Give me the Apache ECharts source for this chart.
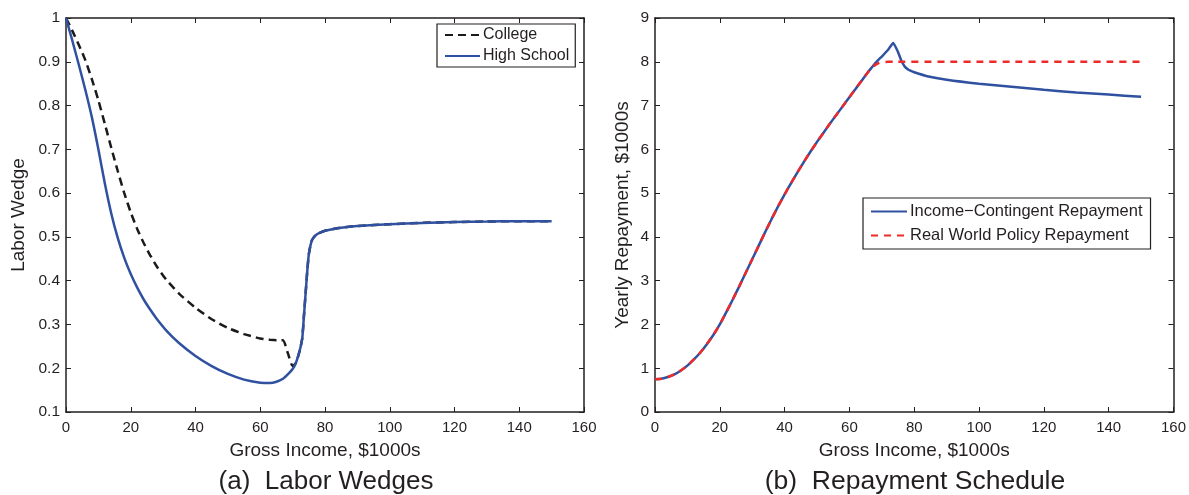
<!DOCTYPE html>
<html>
<head>
<meta charset="utf-8">
<script src="https://cdn.jsdelivr.net/npm/echarts@6/dist/echarts.min.js"></script>
<style>
html,body{margin:0;padding:0;background:#fff;}
#chart{width:1189px;height:495px;}
</style>
</head>
<body>
<div id="chart"></div>
<script>
// ---- Panel (a): Labor wedges ----
const leftIncome = [0,2,4,6,8,10,12,14,16,18,20,22,24,26,28,31,35,40,45,50,55,60,63,65,67,68.5,70,71,72,72.5,73,73.5,74,74.5,75,75.5,76,77,78,80,85,90,100,110,120,130,140,150];
const collegeWedge = [1.0,0.97,0.938,0.903,0.86,0.812,0.758,0.703,0.65,0.6,0.556,0.518,0.486,0.458,0.433,0.402,0.37,0.338,0.312,0.292,0.278,0.268,0.265,0.264,0.264,0.235,0.205,0.212,0.235,0.25,0.27,0.32,0.37,0.42,0.46,0.48,0.493,0.503,0.508,0.514,0.521,0.525,0.529,0.532,0.534,0.535,0.536,0.536];
const highSchoolWedge = [1.0,0.947,0.892,0.835,0.773,0.70,0.622,0.553,0.497,0.452,0.415,0.384,0.357,0.334,0.313,0.286,0.257,0.228,0.205,0.187,0.174,0.167,0.166,0.169,0.176,0.186,0.198,0.212,0.235,0.25,0.27,0.32,0.37,0.42,0.46,0.48,0.493,0.503,0.508,0.514,0.521,0.525,0.529,0.532,0.534,0.535,0.536,0.536];

// ---- Panel (b): Repayment schedule ----
const rightIncome = [0,2,4,6,8,10,12,14,16,18,20,22,24,26,28,30,32,34,36,38,40,42,44,46,48,50,52,54,56,58,60,62,64,66,67,68,69,70,72,73.5,75,76,77,78,79,80,84,90,100,110,120,130,140,150];
const incomeContingent = [0.75,0.76,0.8,0.86,0.95,1.06,1.2,1.36,1.55,1.76,2.0,2.28,2.57,2.87,3.18,3.49,3.8,4.11,4.41,4.7,4.97,5.23,5.48,5.72,5.95,6.17,6.38,6.59,6.79,6.99,7.19,7.39,7.59,7.79,7.88,7.97,8.05,8.12,8.28,8.43,8.22,8.03,7.9,7.83,7.79,7.76,7.67,7.59,7.5,7.43,7.36,7.3,7.25,7.2];
const realWorldPolicy = [0.75,0.76,0.8,0.86,0.95,1.06,1.2,1.36,1.55,1.76,2.0,2.28,2.57,2.87,3.18,3.49,3.8,4.11,4.41,4.7,4.97,5.23,5.48,5.72,5.95,6.17,6.38,6.59,6.79,6.99,7.19,7.39,7.59,7.79,7.87,7.93,7.97,7.99,8.0,8.0,8.0,8.0,8.0,8.0,8.0,8.0,8.0,8.0,8.0,8.0,8.0,8.0,8.0,8.0];

const seriesNames = ['College','High School','Income\u2212Contingent Repayment','Real World Policy Repayment'];
const captions = ['(a)  Labor Wedges','(b)  Repayment Schedule'];
const xName = 'Gross Income, $1000s';
const yNames = ['Labor Wedge','Yearly Repayment, $1000s'];

const zip = (xs, ys) => xs.map((x, i) => [x, ys[i]]);

const FONT = "'Liberation Sans', Arial, Helvetica, sans-serif";
const INK = '#231f20';
const BLUE = '#3050a0';
const RED = '#ee2a2a';

function mainX(gi){
  return {
    type:'value', gridIndex:gi, min:0, max:160, interval:20, position:'bottom',
    name:xName, nameLocation:'middle', nameGap:29,
    nameTextStyle:{fontFamily:FONT, fontSize:19, color:INK},
    axisLine:{show:true, onZero:false, lineStyle:{color:INK, width:1.5}},
    axisTick:{show:true, inside:true, length:5, lineStyle:{color:INK, width:1}},
    axisLabel:{show:true, margin:8, fontFamily:FONT, fontSize:15, color:INK},
    splitLine:{show:false}
  };
}
function topX(gi){
  return {
    type:'value', gridIndex:gi, min:0, max:160, interval:20, position:'top',
    axisLine:{show:true, onZero:false, lineStyle:{color:INK, width:1.5}},
    axisTick:{show:true, inside:true, length:5, lineStyle:{color:INK, width:1}},
    axisLabel:{show:false}, splitLine:{show:false}
  };
}
function mainY(gi, min, max, interval, name, gap, fmt){
  return {
    type:'value', gridIndex:gi, min:min, max:max, interval:interval, position:'left',
    name:name, nameLocation:'middle', nameGap:gap, nameRotate:90,
    nameTextStyle:{fontFamily:FONT, fontSize:19, color:INK},
    axisLine:{show:true, onZero:false, lineStyle:{color:INK, width:1.5}},
    axisTick:{show:true, inside:true, length:5, lineStyle:{color:INK, width:1}},
    axisLabel:{show:true, margin:6, fontFamily:FONT, fontSize:15.5, color:INK, formatter:fmt},
    splitLine:{show:false}
  };
}
function rightY(gi, min, max, interval){
  return {
    type:'value', gridIndex:gi, min:min, max:max, interval:interval, position:'right',
    axisLine:{show:true, onZero:false, lineStyle:{color:INK, width:1.5}},
    axisTick:{show:true, inside:true, length:5, lineStyle:{color:INK, width:1}},
    axisLabel:{show:false}, splitLine:{show:false}
  };
}

const chart = echarts.init(document.getElementById('chart'), null, {renderer:'canvas'});
chart.setOption({
  backgroundColor:'#ffffff',
  animation:false,
  grid:[
    {left:66, top:18, width:518, height:394},
    {left:655, top:18, width:519, height:394}
  ],
  xAxis:[mainX(0), mainX(1), topX(0), topX(1)],
  yAxis:[
    mainY(0, 0.1, 1, 0.1, yNames[0], 38, v => String(Math.round(v*10)/10)),
    mainY(1, 0, 9, 1, yNames[1], 23, v => String(Math.round(v))),
    rightY(0, 0.1, 1, 0.1),
    rightY(1, 0, 9, 1)
  ],
  legend:[
    {
      data:[seriesNames[0], seriesNames[1]], orient:'vertical', left:437, top:24,
      itemWidth:35, itemHeight:14, itemGap:5, padding:[3,6,3,7],
      itemStyle:{opacity:0},
      borderColor:INK, borderWidth:1.2, backgroundColor:'#fff',
      textStyle:{fontFamily:FONT, fontSize:16, color:INK, padding:[0,0,0,-2]}
    },
    {
      data:[seriesNames[2], seriesNames[3]], orient:'vertical', left:863, top:198,
      itemWidth:36, itemHeight:15, itemGap:7, padding:[5,8,5,7],
      itemStyle:{opacity:0},
      borderColor:INK, borderWidth:1.2, backgroundColor:'#fff',
      textStyle:{fontFamily:FONT, fontSize:16.5, color:INK, padding:[0,0,0,-2]}
    }
  ],
  series:[
    {
      name:seriesNames[0], type:'line', xAxisIndex:0, yAxisIndex:0,
      data:zip(leftIncome, collegeWedge), showSymbol:false, symbol:'none',
      smooth:0.2,
      lineStyle:{color:'#1a1a1a', width:2.5, type:[8,5]}, itemStyle:{color:'#1a1a1a'}
    },
    {
      name:seriesNames[1], type:'line', xAxisIndex:0, yAxisIndex:0,
      data:zip(leftIncome, highSchoolWedge), showSymbol:false, symbol:'none',
      smooth:0.2,
      lineStyle:{color:BLUE, width:2.5}, itemStyle:{color:BLUE}
    },
    {
      name:seriesNames[2], type:'line', xAxisIndex:1, yAxisIndex:1,
      data:zip(rightIncome, incomeContingent), showSymbol:false, symbol:'none',
      smooth:0.15,
      lineStyle:{color:BLUE, width:2.5}, itemStyle:{color:BLUE}
    },
    {
      name:seriesNames[3], type:'line', xAxisIndex:1, yAxisIndex:1,
      data:zip(rightIncome, realWorldPolicy), showSymbol:false, symbol:'none',
      smooth:0.15,
      lineStyle:{color:RED, width:2.5, type:[7,6]}, itemStyle:{color:RED}
    }
  ],
  graphic:[
    {type:'text', x:326, y:482, silent:true,
     style:{text:captions[0], fontFamily:FONT, fontSize:26, fill:INK, textAlign:'center', textVerticalAlign:'middle'}},
    {type:'text', x:915, y:482, silent:true,
     style:{text:captions[1], fontFamily:FONT, fontSize:26.5, fill:INK, textAlign:'center', textVerticalAlign:'middle'}}
  ]
});
</script>
</body>
</html>
